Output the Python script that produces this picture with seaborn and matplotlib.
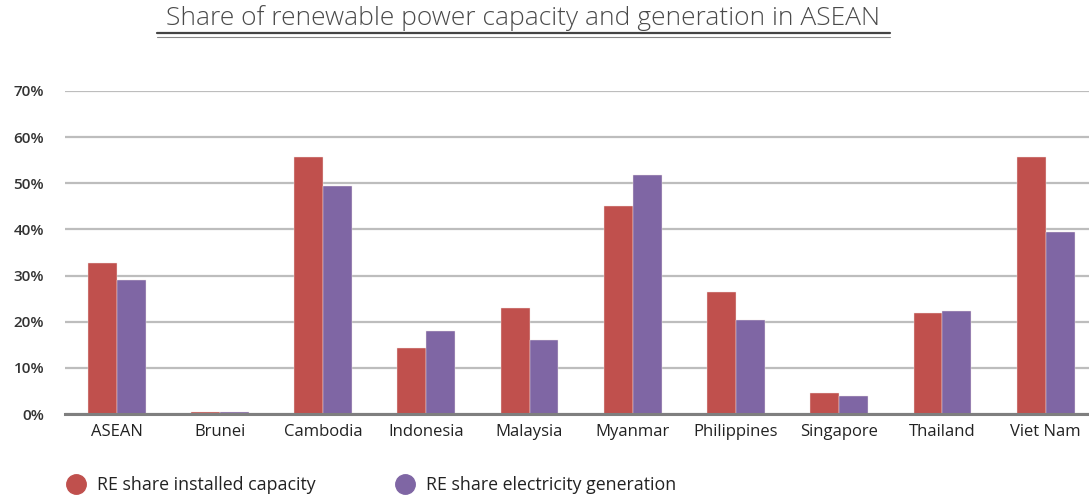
import matplotlib
matplotlib.use("Agg")
import matplotlib.pyplot as plt
from matplotlib.lines import Line2D
import seaborn as sns
import pandas as pd

countries = ["ASEAN", "Brunei", "Cambodia", "Indonesia", "Malaysia", "Myanmar",
             "Philippines", "Singapore", "Thailand", "Viet Nam"]
capacity = [32.8, 0.4, 55.7, 14.4, 22.9, 45.1, 26.4, 4.6, 21.9, 55.8]
generation = [29.1, 0.4, 49.5, 18.0, 16.0, 51.7, 20.3, 4.0, 22.4, 39.5]
series_names = ["RE share installed capacity", "RE share electricity generation"]
colors = ["#C0504D", "#7F66A4"]
yticks = [0, 10, 20, 30, 40, 50, 60, 70]

df = pd.DataFrame({
    "country": countries * 2,
    "value": capacity + generation,
    "series": [series_names[0]] * len(countries) + [series_names[1]] * len(countries),
})

sns.set_theme(style="white")
plt.rcParams["font.family"] = ["Open Sans", "DejaVu Sans"]

fig = plt.figure(figsize=(10.89, 4.97), dpi=100)
ax = fig.add_axes([65 / 1089, 1 - 414 / 497, 1 - 65 / 1089, (414 - 91) / 497])

sns.barplot(data=df, x="country", y="value", hue="series", palette=colors,
            width=0.56, gap=0, saturation=1, edgecolor="#F2E6E6", linewidth=0.3,
            ax=ax, legend=False, zorder=3)

ax.set_ylim(0, 70)
ax.set_xlim(-0.5, 9.42)
ax.set_yticks(yticks)
ax.set_yticklabels([f"{t}%" for t in yticks])
ax.yaxis.grid(True, color="#BDBDBD", linewidth=1.6, zorder=0)
ax.set_axisbelow(True)
for s in ["top", "right", "left"]:
    ax.spines[s].set_visible(False)
ax.spines["bottom"].set_color("#7F7F7F")
ax.spines["bottom"].set_linewidth(2.2)
ax.spines["bottom"].set_zorder(4)
ax.tick_params(axis="y", length=0, pad=15, labelsize=11, labelcolor="#333333")
ax.tick_params(axis="x", length=0, pad=7, labelsize=12, labelcolor="#222222")
for lbl in ax.get_yticklabels():
    lbl.set_fontweight("semibold")
ax.set_xlabel("")
ax.set_ylabel("")

fig.text(523 / 1089, 1 - 18.5 / 497, "Share of renewable power capacity and generation in ASEAN",
         ha="center", va="center", fontsize=19, color="#4A4A4A", fontweight="light")
fig.add_artist(Line2D([157 / 1089, 890 / 1089], [1 - 33.5 / 497] * 2,
                      color="#444444", linewidth=1.6, transform=fig.transFigure))
fig.add_artist(Line2D([157 / 1089, 890 / 1089], [1 - 36.5 / 497] * 2,
                      color="#888888", linewidth=0.8, transform=fig.transFigure))

handles = [Line2D([], [], marker="o", linestyle="", markersize=14,
                  markerfacecolor=c, markeredgecolor=c) for c in colors]
fig.legend(handles, series_names, loc="center left", bbox_to_anchor=(42 / 1089, 1 - 485 / 497),
           ncol=2, frameon=False, fontsize=12.8, handletextpad=0.2, columnspacing=4.0,
           labelcolor="#222222")

fig.savefig("out.png", dpi=100)
